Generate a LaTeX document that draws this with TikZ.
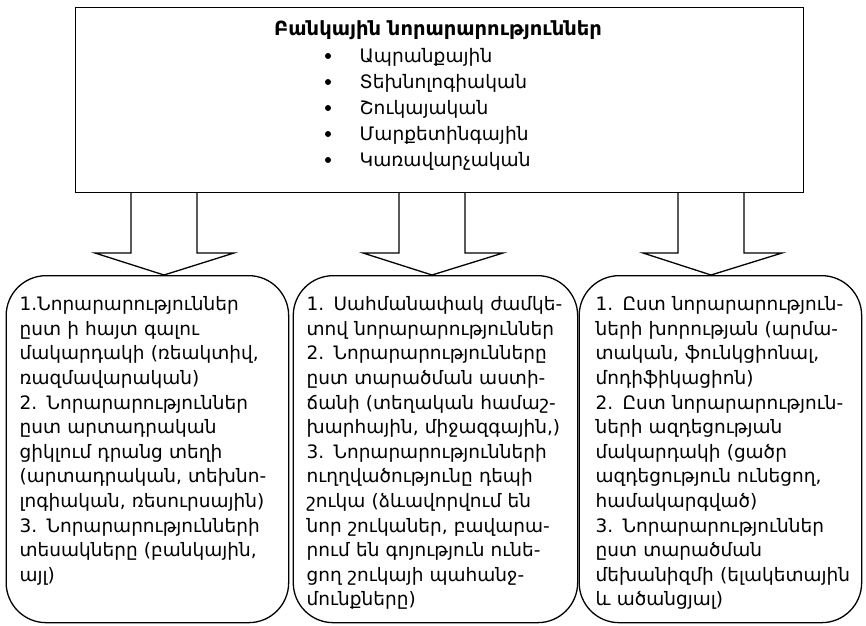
\documentclass[tikz,border=0pt]{standalone}
\usepackage{fontspec}
\setmainfont{DejaVu Sans}
\begin{document}
\begin{tikzpicture}[x=1pt,y=-1pt,line width=1.3pt,
  topbox/.style={draw,anchor=north west,inner sep=0pt},
  roundbox/.style={draw,rounded corners=40pt,anchor=north west,inner sep=0pt,minimum height=347pt},
  boxtext/.style={anchor=north west,inner sep=0pt,text width=272pt,align=left,font=\fontsize{18.5}{24.6}\selectfont},
  itemtext/.style={anchor=west,inner sep=0pt,font=\fontsize{18.6}{20}\selectfont},
  bulletmark/.style={circle,fill=black,inner sep=0pt,minimum size=6pt},
  blockarrow/.style={draw,line join=miter}]
\useasboundingbox (0,0) rectangle (866,625);
% top box
\node[topbox,minimum width=728.5pt,minimum height=184.5pt] (top) at (74.5,7) {};
\node[inner sep=0pt,font=\bfseries\fontsize{19.5}{20}\selectfont] (title) at (438,30) {Բանկային նորարարություններ};
\node[bulletmark] (m1) at (328,56) {};
\node[bulletmark] (m2) at (328,82) {};
\node[bulletmark] (m3) at (328,108) {};
\node[bulletmark] (m4) at (328,134) {};
\node[bulletmark] (m5) at (328,160) {};
\node[itemtext] (i1) at (359,57) {Ապրանքային};
\node[itemtext] (i2) at (359,83) {Տեխնոլոգիական};
\node[itemtext] (i3) at (359,109) {Շուկայական};
\node[itemtext] (i4) at (359,135) {Մարքետինգային};
\node[itemtext] (i5) at (359,161) {Կառավարչական};
% bottom boxes
\node[roundbox,minimum width=282.5pt] (b1) at (5.5,275) {};
\node[roundbox,minimum width=284.4pt] (b2) at (292.6,275) {};
\node[roundbox,minimum width=282.5pt] (b3) at (578.5,275) {};
% arrow tips
\coordinate (t1) at (164,275);
\coordinate (t2) at (432,275);
\coordinate (t3) at (711,275);
% block arrows
\draw[blockarrow] (top.south -| 131,0) -- (131,253) -- (95,253) -- (t1) -- (234,253) -- (197,253) -- (top.south -| 197,0);
\draw[blockarrow] (top.south -| 399,0) -- (399,253) -- (363,253) -- (t2) -- (503,253) -- (465,253) -- (top.south -| 465,0);
\draw[blockarrow] (top.south -| 678,0) -- (678,253) -- (643,253) -- (t3) -- (782,253) -- (744,253) -- (top.south -| 744,0);
% texts
\node[boxtext] (x1) at (19,296) {1.Նորարարություններ\\ըստ ի հայտ գալու\\մակարդակի (ռեակտիվ,\\ռազմավարական)\\2. Նորարարություններ\\ըստ արտադրական\\ցիկլում դրանց տեղի\\(արտադրական, տեխնո-\\լոգիական, ռեսուրսային)\\3. Նորարարությունների\\տեսակները (բանկային,\\այլ)};
\node[boxtext] (x2) at (306,296) {1. Սահմանափակ ժամկե-\\տով նորարարություններ\\2. Նորարարությունները\\ըստ տարածման աստի-\\ճանի (տեղական համաշ-\\խարհային, միջազգային,)\\3. Նորարարությունների\\ուղղվածությունը դեպի\\շուկա (ձևավորվում են\\նոր շուկաներ, բավարա-\\րում են գոյություն ունե-\\ցող շուկայի պահանջ-\\մունքները)};
\node[boxtext] (x3) at (595,296) {1. Ըստ նորարարություն-\\ների խորության (արմա-\\տական, ֆունկցիոնալ,\\մոդիֆիկացիոն)\\2. Ըստ նորարարություն-\\ների ազդեցության\\մակարդակի (ցածր\\ազդեցություն ունեցող,\\համակարգված)\\3. Նորարարություններ\\ըստ տարածման\\մեխանիզմի (ելակետային\\և ածանցյալ)};
\end{tikzpicture}
\end{document}
